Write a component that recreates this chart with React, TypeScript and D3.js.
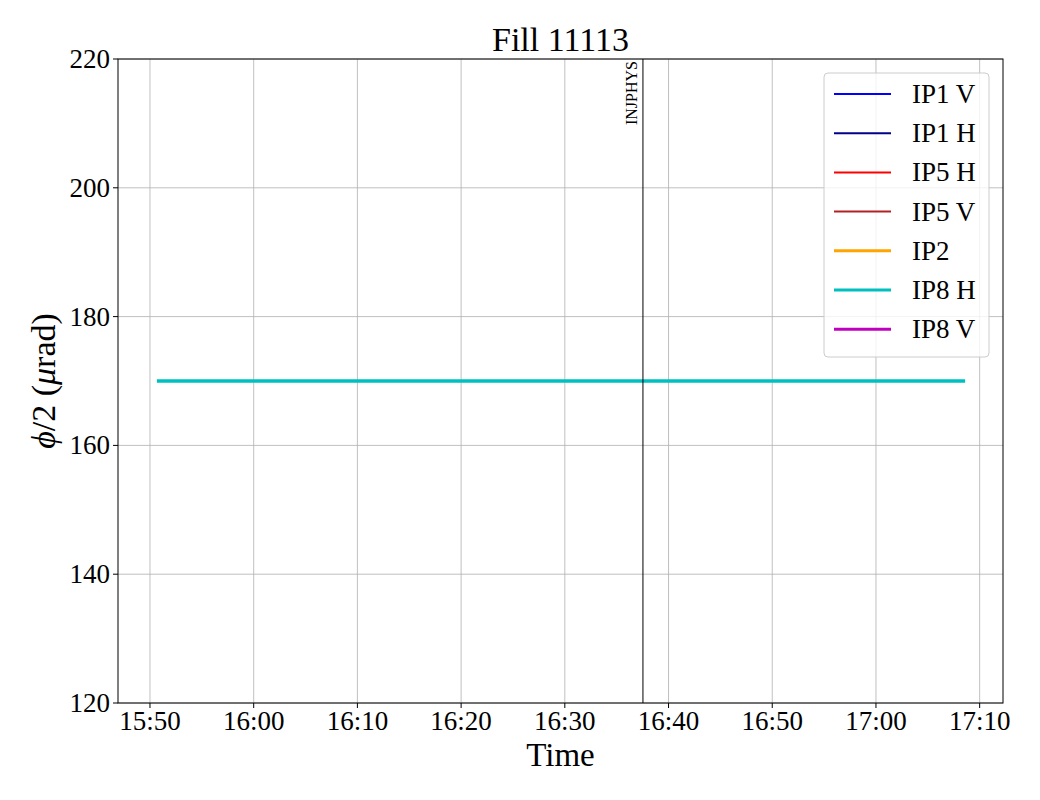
import React from "react";
import * as d3 from "d3";

const title = "Fill 11113";
const seriesNames = ["IP1 V", "IP1 H", "IP5 H", "IP5 V", "IP2", "IP8 H", "IP8 V"];
const seriesColors = ["#0000ff", "#00008b", "#ff0000", "#b22222", "#ffa500", "#00bfbf", "#bf00bf"];
const seriesWidths = [2, 2, 2, 2, 3, 3, 3];
const ip8hTimes = ["2024-01-01T15:50:40", "2024-01-01T17:08:36"];
const ip8hValues = [170, 170];
const xDomain = ["2024-01-01T15:46:55", "2024-01-01T17:12:15"];
const yDomain = [120, 220];
const yTicks = [120, 140, 160, 180, 200, 220];
const xTickTimes = ["15:50", "16:00", "16:10", "16:20", "16:30", "16:40", "16:50", "17:00", "17:10"];
const eventTime = "2024-01-01T16:37:32";
const eventLabel = "INJPHYS";

export default function App() {
  const W = 1040, H = 800;
  const m = { left: 118, right: 1003, top: 59, bottom: 703 };
  const parse = (s: string) => new Date(s);
  const x = d3.scaleTime().domain(xDomain.map(parse)).range([m.left, m.right]);
  const y = d3.scaleLinear().domain(yDomain).range([m.bottom, m.top]);
  const xTicks = xTickTimes.map((t) => parse(`2024-01-01T${t}:00`));
  const fmt = d3.timeFormat("%H:%M");
  const line = d3
    .line<[Date, number]>()
    .x((d) => x(d[0]))
    .y((d) => y(d[1]));
  const ip8h: [Date, number][] = ip8hTimes.map((t, i) => [parse(t), ip8hValues[i]]);
  const font = "'Liberation Serif', 'DejaVu Serif', serif";
  const ex = x(parse(eventTime));
  const legX = 824, legY = 73, legW = 165, rowH = 39.2;

  return (
    <svg width={W} height={H} style={{ position: "absolute", left: 0, top: 0, background: "#fff" }} fontFamily={font}>
      <rect x={0} y={0} width={W} height={H} fill="#fff" />
      {/* grid */}
      {xTicks.map((t, i) => (
        <line key={"gx" + i} x1={x(t)} x2={x(t)} y1={m.top} y2={m.bottom} stroke="#b0b0b0" strokeWidth={0.8} />
      ))}
      {yTicks.map((v, i) => (
        <line key={"gy" + i} x1={m.left} x2={m.right} y1={y(v)} y2={y(v)} stroke="#b0b0b0" strokeWidth={0.8} />
      ))}
      {/* series */}
      <path d={line(ip8h) || ""} fill="none" stroke={seriesColors[5]} strokeWidth={3.5} />
      {/* event line */}
      <line x1={ex} x2={ex} y1={m.top} y2={m.bottom} stroke="#000" strokeWidth={1} />
      <text
        transform={`translate(${ex - 6},${m.top + 2}) rotate(-90)`}
        textAnchor="end"
        fontSize={16}
        fill="#000"
      >
        {eventLabel}
      </text>
      {/* frame */}
      <rect x={m.left} y={m.top} width={m.right - m.left} height={m.bottom - m.top} fill="none" stroke="#000" strokeWidth={1} />
      {/* x ticks */}
      {xTicks.map((t, i) => (
        <g key={"xt" + i}>
          <line x1={x(t)} x2={x(t)} y1={m.bottom} y2={m.bottom + 5} stroke="#000" strokeWidth={1} />
          <text x={x(t)} y={m.bottom + 27} textAnchor="middle" fontSize={27} fill="#000">
            {fmt(t)}
          </text>
        </g>
      ))}
      {/* y ticks */}
      {yTicks.map((v, i) => (
        <g key={"yt" + i}>
          <line x1={m.left - 5} x2={m.left} y1={y(v)} y2={y(v)} stroke="#000" strokeWidth={1} />
          <text x={m.left - 8} y={y(v) + 9} textAnchor="end" fontSize={27} fill="#000">
            {v}
          </text>
        </g>
      ))}
      {/* labels */}
      <text x={(m.left + m.right) / 2} y={51} textAnchor="middle" fontSize={34} fill="#000">
        {title}
      </text>
      <text x={(m.left + m.right) / 2} y={766} textAnchor="middle" fontSize={33} fill="#000">
        Time
      </text>
      <text transform={`translate(55,${(m.top + m.bottom) / 2}) rotate(-90)`} textAnchor="middle" fontSize={34} fill="#000">
        <tspan fontStyle="italic">ϕ</tspan>/2 (<tspan fontStyle="italic">μ</tspan>rad)
      </text>
      {/* legend */}
      <rect x={legX} y={legY} width={legW} height={284} rx={4} fill="#fff" fillOpacity={0.8} stroke="#cccccc" strokeWidth={1} />
      {seriesNames.map((n, i) => {
        const cy = legY + 21 + i * rowH;
        return (
          <g key={"lg" + i}>
            <line x1={834} x2={891} y1={cy} y2={cy} stroke={seriesColors[i]} strokeWidth={seriesWidths[i]} />
            <text x={912} y={cy + 9} fontSize={27} fill="#000">
              {n}
            </text>
          </g>
        );
      })}
    </svg>
  );
}
